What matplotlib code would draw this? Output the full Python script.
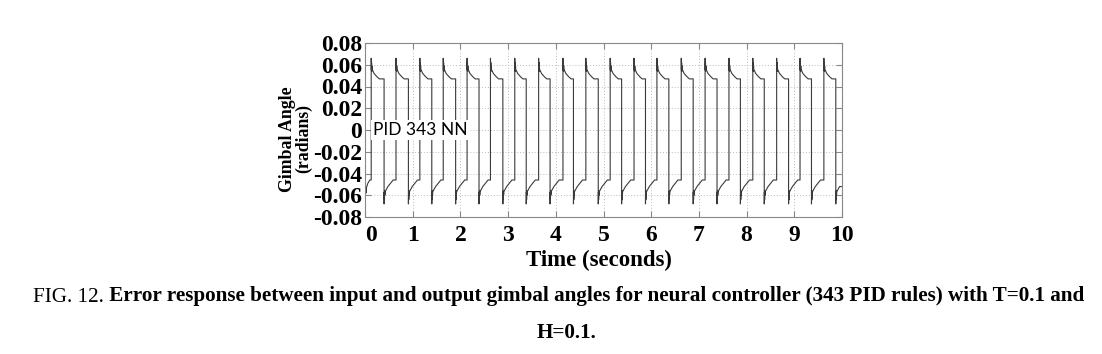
import numpy as np
import matplotlib
matplotlib.use("Agg")
import matplotlib.pyplot as plt

# edge times (seconds)
rise_times = [0.13, 0.65, 1.15, 1.64, 2.14, 2.63, 3.14, 3.64, 4.15, 4.63,
              5.14, 5.64, 6.12, 6.63, 7.13, 7.63, 8.13, 8.63, 9.12, 9.62]
fall_times = [0.40, 0.91, 1.40, 1.90, 2.39, 2.89, 3.38, 3.88, 4.37, 4.89,
              5.38, 5.88, 6.37, 6.88, 7.38, 7.87, 8.37, 8.88, 9.36, 9.87]

# shape of the response after each edge (offset s, radians)
high_dt = [0.0, 0.004, 0.008, 0.012, 0.016, 0.02, 0.03, 0.06, 0.12, 0.17]
high_val = [0.066, 0.055, 0.062, 0.054, 0.059, 0.055, 0.055, 0.052, 0.049, 0.047]
low_dt = [0.0, 0.004, 0.008, 0.012, 0.016, 0.02, 0.03, 0.08, 0.19]
low_val = [-0.068, -0.057, -0.064, -0.056, -0.060, -0.057, -0.056, -0.052, -0.046]

# start of the record before the first rise
start_t = [0.0, 0.01, 0.02, 0.03, 0.06, 0.10]
start_val = [-0.030, -0.052, -0.058, -0.053, -0.049, -0.046]

t_end = 10.0

yticks = [-0.08, -0.06, -0.04, -0.02, 0, 0.02, 0.04, 0.06, 0.08]
ytick_labels = ["-0.08", "-0.06", "-0.04", "-0.02", "0", "0.02", "0.04", "0.06", "0.08"]
xticks = [0, 1, 2, 3, 4, 5, 6, 7, 8, 9, 10]

caption_head = "FIG. 12."
caption_line1 = "Error response between input and output gimbal angles for neural controller (343 PID rules) with T=0.1 and"
caption_line2 = "H=0.1."


def add_segment(t, y, t0, t_next, dts, vals):
    for d, v in zip(dts, vals):
        if t0 + d >= t_next:
            break
        t.append(t0 + d)
        y.append(v)
    t.append(t_next)
    y.append(y[-1])


t = list(start_t)
y = list(start_val)
t.append(rise_times[0])
y.append(y[-1])
for i, (r, f) in enumerate(zip(rise_times, fall_times)):
    add_segment(t, y, r, f, high_dt, high_val)
    nxt = rise_times[i + 1] if i + 1 < len(rise_times) else t_end
    add_segment(t, y, f, nxt, low_dt, low_val)

serif = ["Liberation Serif", "DejaVu Serif"]

fig = plt.figure(figsize=(11.02, 3.54), dpi=100)
ax = fig.add_axes([365 / 1102, 1 - 217 / 354, 477 / 1102, 174 / 354])

ax.plot(t, y, color="#3a3a3a", lw=0.8)

ax.set_xlim(0, 10)
ax.set_ylim(-0.08, 0.08)
ax.set_xticks(xticks)
ax.set_yticks(yticks)
ax.set_yticklabels(ytick_labels)
ax.grid(True, color="#bbbbbb", linestyle=(0, (1, 2)), lw=0.7)
for s in ax.spines.values():
    s.set_color("#888888")
    s.set_linewidth(0.8)
ax.tick_params(direction="in", length=4, color="#888888", top=True, right=True)
ax.tick_params(axis="y", pad=2)
ax.tick_params(axis="x", pad=6)
for lab in ax.get_xticklabels() + ax.get_yticklabels():
    lab.set_family(serif)
    lab.set_fontweight("bold")
    lab.set_fontsize(17)
# nudge the first x label so it clears the -0.08 label
ax.get_xticklabels()[0].set_ha("left")

ax.set_xlabel("Time (seconds)", family=serif, fontweight="bold", fontsize=16.5)
ax.xaxis.set_label_coords(0.49, -0.25)
ax.xaxis.label.set_va("center")
ax.set_ylabel("Gimbal Angle\n(radians)", family=serif, fontweight="bold",
              fontsize=12.8, linespacing=0.95)
ax.yaxis.set_label_coords(-0.146, 0.45)
ax.yaxis.label.set_va("center")

ax.text(0.17, 0.0, "PID 343 NN", family=["Lato", "DejaVu Sans"], fontsize=12.5,
        va="center", ha="left",
        bbox=dict(facecolor="white", edgecolor="none", pad=1.5))

# caption
head = fig.text(33 / 1102, 1 - 297 / 354, caption_head, family=serif,
                fontsize=15.2, va="center", ha="left")
ax.annotate(" " + caption_line1, xy=(1, 0), xycoords=head, va="bottom",
            ha="left", family=serif, fontweight="bold", fontsize=15.2,
            annotation_clip=False)
fig.text(567 / 1102, 1 - 333 / 354, caption_line2, family=serif,
         fontweight="bold", fontsize=15.2, va="center", ha="center")

fig.savefig("out.png", dpi=100, facecolor="white")
